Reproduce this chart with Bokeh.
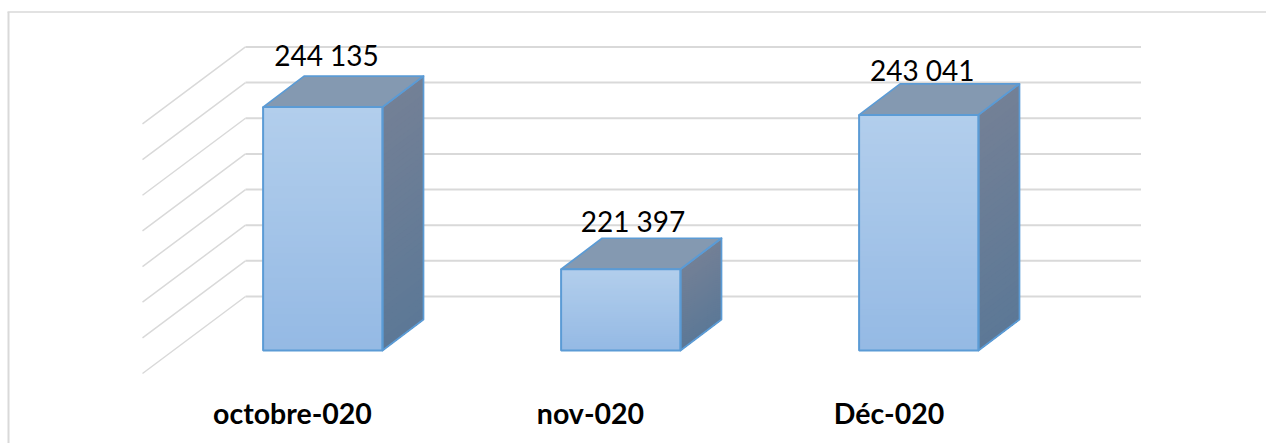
from bokeh.plotting import figure
from bokeh.embed import file_html
from bokeh.resources import INLINE
from bokeh.core.properties import value as V

categories = ["octobre-020", "nov-020", "Déc-020"]
values = [244135, 221397, 243041]
value_labels = ["244 135", "221 397", "243 041"]
grid_values = [210000, 215000, 220000, 225000, 230000, 235000, 240000, 245000]

# layout (page pixels; the page is drawn from the window's corner)
W, H = 1266, 443
FIRST_CAT_PX, CAT_PX = 322.3, 298.0
BASE_PX, VAL0 = 350.0, 210000
VAL_PX = 5000 / 35.65
BAR_W = 119.4 / CAT_PX
px = lambda d: d / CAT_PX      # pixels -> category units
pv = lambda d: d * VAL_PX      # pixels -> value units
X = lambda s: (s - FIRST_CAT_PX) / CAT_PX
Y = lambda s: VAL0 + (BASE_PX - s) * VAL_PX

p = figure(width=W, height=H, output_backend="svg", toolbar_location=None,
           x_range=(X(0), X(W)), y_range=(Y(H), Y(0)),
           min_border=0, outline_line_color=None, background_fill_color="white")
p.axis.visible = False
p.grid.visible = False

GRID = "#D9D9D9"
# chart border
p.line([X(8), X(8)], [Y(11.5), Y(H)], line_color=GRID, line_width=2)
p.line([X(7), X(W)], [Y(11.5), Y(11.5)], line_color=GRID, line_width=1.5)

# walls: back plane sits behind the bars, floor runs to the front
BACK_DY = 350.0 - 296.0
FRONT_DY = 350.0 - 373.0
for g in grid_values:
    yb = g + pv(BACK_DY)
    yf = g + pv(FRONT_DY)
    p.line([X(142), X(245)], [yf, yb], line_color=GRID, line_width=1.5)
    p.line([X(245), X(1140.5)], [yb, yb], line_color=GRID, line_width=2)

DX, DY = px(41), pv(31)
EDGE = "#5B9BD5"
N = 40


def mix(a, b, t):
    return "#%02x%02x%02x" % tuple(round(a[i] + (b[i] - a[i]) * t) for i in range(3))


FACE_T, FACE_B = (178, 206, 236), (148, 185, 228)
SIDE_T, SIDE_B = (115, 128, 150), (92, 120, 150)
TOP_C = "#8499B1"

for i, v in enumerate(values):
    x0, x1 = i - BAR_W / 2, i + BAR_W / 2
    # side gradient, painted from the top down
    for k in range(N):
        t = k / N
        y = v + (VAL0 - v) * t
        p.patch([x1, x1, x1 + DX, x1 + DX], [VAL0, y, y + DY, VAL0 + DY],
                fill_color=mix(SIDE_T, SIDE_B, t), line_color=None)
    # top
    p.patch([x0, x1, x1 + DX, x0 + DX], [v, v, v + DY, v + DY],
            fill_color=TOP_C, line_color=None)
    # front gradient
    for k in range(N):
        t = k / N
        y = v + (VAL0 - v) * t
        p.quad(left=x0, right=x1, bottom=VAL0, top=y,
               fill_color=mix(FACE_T, FACE_B, t), line_color=None)
    # edges
    p.patch([x1, x1, x1 + DX, x1 + DX], [VAL0, v, v + DY, VAL0 + DY],
            fill_color=None, line_color=EDGE, line_width=1.7, line_join="round")
    p.patch([x0, x1, x1 + DX, x0 + DX], [v, v, v + DY, v + DY],
            fill_color=None, line_color=EDGE, line_width=1.7, line_join="round")
    p.quad(left=x0, right=x1, bottom=VAL0, top=v,
           fill_color=None, line_color=EDGE, line_width=2)

# value labels (hand placed in the original)
label_cx = [326.0, 632.5, 921.7]
label_base = [54.0, 220.0, 69.0]
p.text(x=[X(s) for s in label_cx], y=[Y(s) for s in label_base], text=value_labels,
       text_font=V("Lato"), text_font_size="28px", text_color="#000000",
       text_align="center", text_baseline="alphabetic")

# category labels
cat_cx = [292.0, 590.0, 888.5]
p.text(x=[X(s) for s in cat_cx], y=[Y(412.0)] * 3, text=categories,
       text_font=V("Lato"), text_font_size="28.5px", text_font_style="bold",
       text_color="#000000", text_align="center", text_baseline="alphabetic")

open("out.html", "w").write(file_html(p, INLINE))
